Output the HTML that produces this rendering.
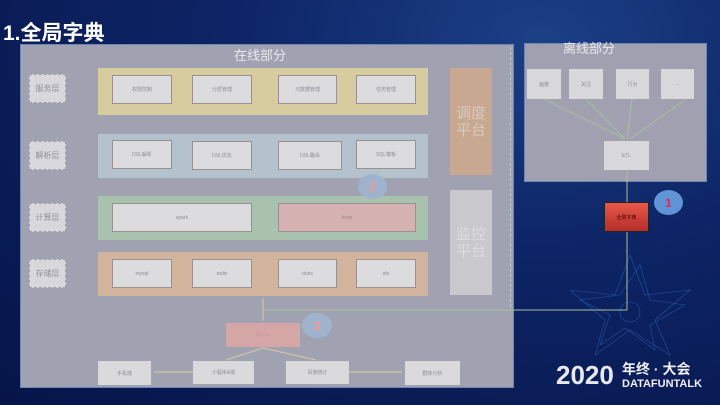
<!DOCTYPE html>
<html><head><meta charset="utf-8"><style>
body{margin:0;width:720px;height:405px;overflow:hidden;background:radial-gradient(ellipse at 75% 10%,#1c3f86 0%,#0d2566 40%,#061448 100%);font-family:"Liberation Sans","Noto Sans CJK SC",sans-serif;position:relative}
.a{position:absolute;box-sizing:border-box}
.t{display:flex;align-items:center;justify-content:center;font-size:5px;color:#8c8c96}
.it{background:#dcdcdf;border:1px solid #9a9090}
.lb{background:#d8d8dc;border:1px dashed #9ea0aa;font-size:8px;color:#909098}
.c{border-radius:50%;background:#9fb4cc;color:#e99;font-size:12px;font-weight:bold}
</style></head><body>
<div class="a" style="left:3px;top:17px;color:#fff;font-size:21px;font-weight:bold">1.全局字典</div>
<div class="a" style="left:20px;top:44px;width:494px;height:344px;background:#a0a2b2;border:1px solid #6f86b3"></div>
<div class="a" style="left:510px;top:47px;height:260px;border-left:1px dashed #c0c8dc"></div>
<div class="a" style="left:220px;top:45px;width:80px;color:#e8e8ee;font-size:13px;text-align:center">在线部分</div>
<div class="a lb t" style="left:29px;top:74px;width:37px;height:29px">服务层</div>
<div class="a lb t" style="left:29px;top:141px;width:37px;height:29px">解析层</div>
<div class="a lb t" style="left:29px;top:203px;width:37px;height:29px">计算层</div>
<div class="a lb t" style="left:29px;top:259px;width:37px;height:29px">存储层</div>
<div class="a" style="left:98px;top:68px;width:330px;height:47px;background:#d7cc9f"></div>
<div class="a" style="left:98px;top:134px;width:330px;height:44px;background:#b4c2cd"></div>
<div class="a" style="left:98px;top:196px;width:330px;height:44px;background:#a9c2ad"></div>
<div class="a" style="left:98px;top:252px;width:330px;height:44px;background:#d2b49d"></div>
<div class="a it t" style="left:112px;top:75px;width:60px;height:29px">权限控制</div>
<div class="a it t" style="left:192px;top:75px;width:60px;height:29px">分层管理</div>
<div class="a it t" style="left:278px;top:75px;width:59px;height:29px">元数据管理</div>
<div class="a it t" style="left:356px;top:75px;width:60px;height:29px">任务管理</div>
<div class="a it t" style="left:112px;top:140px;width:60px;height:29px">DSL解析</div>
<div class="a it t" style="left:192px;top:141px;width:60px;height:29px">DSL优化</div>
<div class="a it t" style="left:278px;top:141px;width:64px;height:29px">DSL路由</div>
<div class="a it t" style="left:356px;top:140px;width:60px;height:29px">SQL模板</div>
<div class="a it t" style="left:112px;top:203px;width:140px;height:29px">spark</div>
<div class="a it t" style="left:278px;top:203px;width:138px;height:29px;background:#d6b1b1">doris</div>
<div class="a it t" style="left:112px;top:259px;width:60px;height:29px">mysql</div>
<div class="a it t" style="left:192px;top:259px;width:60px;height:29px">redis</div>
<div class="a it t" style="left:278px;top:259px;width:59px;height:29px">doris</div>
<div class="a it t" style="left:356px;top:259px;width:60px;height:29px">afs</div>
<div class="a t" style="left:450px;top:68px;width:42px;height:107px;background:#c8a890;color:#d6cac0;font-size:15px;line-height:17px">调度<br>平台</div>
<div class="a t" style="left:450px;top:190px;width:42px;height:105px;background:#c9c9cd;color:#dcdce0;font-size:15px;line-height:17px">监控<br>平台</div>
<div class="a c t" style="left:358px;top:174px;width:29px;height:25px">2</div>
<div class="a c t" style="left:302px;top:313px;width:30px;height:25px">3</div>
<div class="a t" style="left:226px;top:323px;width:74px;height:24px;background:#d4a6a6;color:#c99">用户包</div>
<div class="a t" style="left:98px;top:361px;width:53px;height:24px;background:#dadadc">手机端</div>
<div class="a t" style="left:193px;top:361px;width:61px;height:23px;background:#dadadc">小程序&amp;端</div>
<div class="a t" style="left:286px;top:361px;width:63px;height:23px;background:#dadadc">百度统计</div>
<div class="a t" style="left:405px;top:361px;width:55px;height:24px;background:#dadadc">群体分析</div>
<div class="a" style="left:524px;top:43px;width:183px;height:139px;background:#a0a0b0;border:1px solid #6f86b3"></div>
<div class="a" style="left:556px;top:38px;width:66px;color:#e8e8ee;font-size:13px;text-align:center">离线部分</div>
<div class="a t" style="left:527px;top:69px;width:34px;height:30px;background:#d8d8da">画像</div>
<div class="a t" style="left:569px;top:69px;width:34px;height:30px;background:#d8d8da">关注</div>
<div class="a t" style="left:616px;top:69px;width:33px;height:30px;background:#d8d8da">行为</div>
<div class="a t" style="left:661px;top:69px;width:33px;height:30px;background:#d8d8da">...</div>
<div class="a t" style="left:604px;top:141px;width:45px;height:29px;background:#d8d8da">ETL</div>
<svg class="a" style="left:570px;top:250px" width="130" height="110"><g stroke="#3a72c8" stroke-width="0.6" fill="none" opacity="0.6">
<polygon points="60,5 75,45 120,40 85,70 100,105 60,80 25,105 35,70 0,40 45,45"/>
<polygon points="70,15 80,50 115,55 80,75 85,100 55,78 30,95 40,65 10,50 50,45"/>
<circle cx="60" cy="62" r="10"/></g></svg>
<svg class="a" style="left:0;top:0" width="720" height="405">
<g stroke="#d8cc9c" stroke-width="1" fill="#d8cc9c">
<line x1="263" y1="298" x2="263" y2="321"/>
<line x1="263" y1="348" x2="226" y2="360"/><line x1="263" y1="348" x2="316" y2="360"/>
<line x1="193" y1="372" x2="154" y2="372"/><line x1="349" y1="372" x2="402" y2="372"/>
</g>
<g stroke="#a8c09a" stroke-width="1" fill="none">
<line x1="263" y1="310" x2="627" y2="310"/><line x1="627" y1="310" x2="627" y2="232"/>
<line x1="627" y1="170" x2="627" y2="202"/>
<line x1="544" y1="99" x2="625" y2="139"/><line x1="586" y1="99" x2="625" y2="139"/><line x1="632" y1="99" x2="627" y2="139"/><line x1="686" y1="99" x2="630" y2="139"/>
</g></svg>
<div class="a t" style="left:604px;top:202px;width:45px;height:30px;background:linear-gradient(#e8584a,#b52e28);color:#400;border:1px solid #222">全局字典</div>
<div class="a t" style="left:654px;top:190px;width:29px;height:25px;border-radius:50%;background:#5f95d6;color:#d03060;font-size:12px;font-weight:bold">1</div>
<div class="a" style="left:556px;top:360px;color:#e8e8ee;font-size:26px;font-weight:bold">2020</div>
<div class="a" style="left:622px;top:359px;color:#f0f0f4;font-size:14px;font-weight:bold">年终 · 大会</div>
<div class="a" style="left:622px;top:378px;color:#f0f0f4;font-size:11px;font-weight:bold">DATAFUNTALK</div>
</body></html>
